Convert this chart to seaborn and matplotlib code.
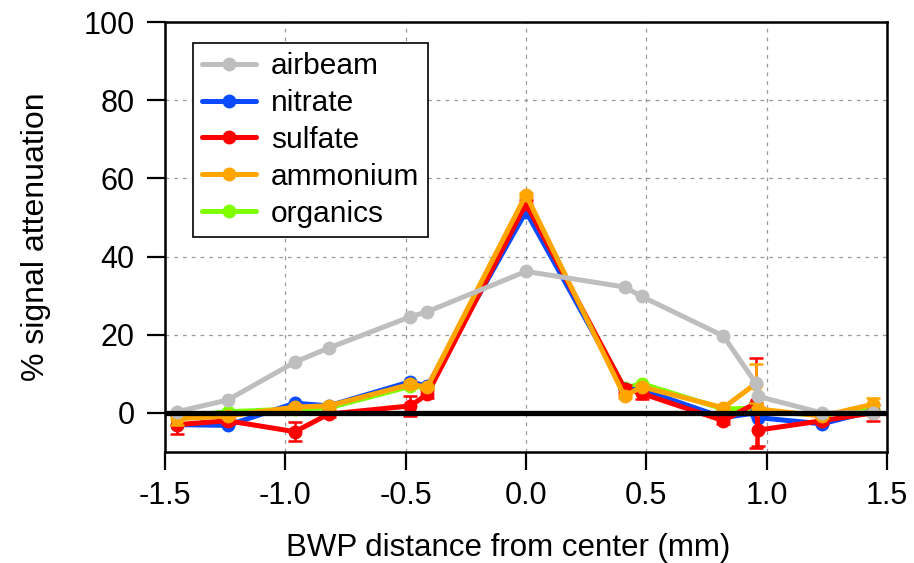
import matplotlib
matplotlib.use("Agg")
import matplotlib.pyplot as plt
import seaborn as sns
import numpy as np
import pandas as pd

# ---- data ----
x_mm = [-1.45, -1.24, -0.96, -0.82, -0.48, -0.41, 0.0, 0.41, 0.48, 0.82, 0.955, 0.965, 1.23, 1.44]
airbeam = [0.3, 3.3, 13.0, 16.6, 24.6, 25.9, 36.2, 32.2, 29.8, 19.7, 7.6, 4.2, 0.0, 0.0]
nitrate = [-3.0, -3.2, 2.5, 1.8, 8.0, 6.8, 51.5, 6.0, 6.0, -1.2, 0.0, -1.2, -2.8, 0.5]
sulfate = [-3.0, -2.0, -4.8, -0.3, 1.8, 4.8, 53.5, 6.2, 5.0, -2.0, 2.5, -4.4, -2.0, 0.0]
ammonium = [-1.5, -0.8, 1.5, 1.8, 7.3, 6.6, 55.8, 4.2, 6.7, 1.3, 7.5, 1.0, -0.8, 2.2]
organics = [-1.0, 0.3, 1.0, 1.3, 6.8, 6.5, 52.5, 6.3, 7.5, 1.0, 1.2, 0.3, -0.5, 1.0]
sulfate_err = [2.5, 0.8, 2.5, 0.8, 2.5, 1.0, 1.0, 1.0, 1.5, 0.8, 11.5, 4.0, 0.8, 2.0]
ammonium_err = [1.5, 0.5, 0.5, 0.5, 0.8, 0.5, 0.5, 0.5, 0.5, 0.5, 5.0, 0.5, 0.5, 1.5]

series_names = ["airbeam", "nitrate", "sulfate", "ammonium", "organics"]
series_vals = [airbeam, nitrate, sulfate, ammonium, organics]
series_colors = ["#BEBEBE", "#0A4BFF", "#FF0000", "#FFA500", "#7FFF00"]
series_z = [8, 4, 5, 6, 3]
errs = {"sulfate": sulfate_err, "ammonium": ammonium_err}

x_ticks = [-1.5, -1.0, -0.5, 0.0, 0.5, 1.0, 1.5]
x_ticklabels = ["-1.5", "-1.0", "-0.5", "0.0", "0.5", "1.0", "1.5"]
y_ticks = [0, 20, 40, 60, 80, 100]

sns.set_theme(style="white")
plt.rcParams["font.family"] = ["Liberation Sans", "DejaVu Sans"]

fig = plt.figure(figsize=(9.14, 5.63), dpi=100)
ax = fig.add_axes([165 / 914, 1 - 452 / 563, 722 / 914, 430 / 563])

for name, vals, col, z in zip(series_names, series_vals, series_colors, series_z):
    df = pd.DataFrame({"x": x_mm, "y": vals})
    if name in errs:
        ax.errorbar(x_mm, vals, yerr=errs[name], fmt="none", ecolor=col,
                    elinewidth=1.8, capsize=5, capthick=1.8, zorder=z - 0.5)
    sns.lineplot(data=df, x="x", y="y", ax=ax, color=col, linewidth=3.6,
                 marker="o", markersize=10, markeredgewidth=0, estimator=None,
                 sort=False, zorder=z, label=name)

ax.axhline(0, color="black", linewidth=3.8, zorder=10)

ax.set_xlim(-1.5, 1.5)
ax.set_ylim(-10, 100)
ax.set_xticks(x_ticks)
ax.set_xticklabels(x_ticklabels)
ax.set_yticks(y_ticks)
ax.grid(True, color="#999999", linestyle=(0, (3, 4)), linewidth=0.9)
ax.set_axisbelow(True)
for sp in ax.spines.values():
    sp.set_visible(True)
    sp.set_color("black")
    sp.set_linewidth(1.8)
ax.tick_params(axis="both", direction="out", length=13, width=1.6,
               colors="black", labelsize=22, left=True, bottom=True)
ax.tick_params(axis="y", pad=9)
ax.tick_params(axis="x", pad=8)

ax.set_xlabel("BWP distance from center (mm)", fontsize=22.5, labelpad=16,
              color="black")
ax.xaxis.label.set_x(0.476)
ax.set_ylabel("% signal attenuation", fontsize=23, labelpad=23, color="black")

h, l = ax.get_legend_handles_labels()
order = [l.index(n) for n in series_names]
leg = ax.legend([h[i] for i in order], [l[i] for i in order], loc="upper left",
                bbox_to_anchor=(0.039, 0.951), borderaxespad=0, fontsize=21.5,
                frameon=True, fancybox=False, framealpha=1, edgecolor="black",
                handlelength=1.8, handletextpad=0.5, labelspacing=0.3,
                borderpad=0.3)
for t in leg.get_texts():
    t.set_color("black")
leg.get_frame().set_linewidth(1.2)
leg.set_zorder(20)

fig.savefig("out.png", dpi=100)
